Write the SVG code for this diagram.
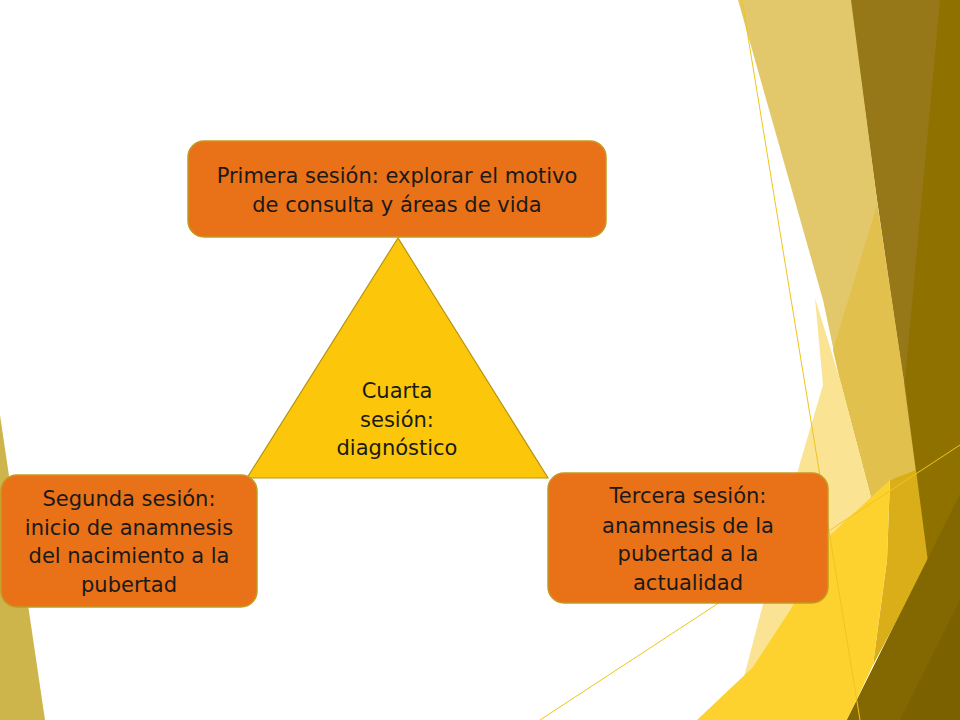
<svg xmlns="http://www.w3.org/2000/svg" width="960" height="720" viewBox="0 0 960 720">
  <style>
    .box { fill: #E97117; stroke: #C49B22; stroke-width: 1.5; }
    .tri { fill: #FCC70B; stroke: #B7950F; stroke-width: 1.2; }
    .lbl { font-family: "DejaVu Sans", "Noto Sans", sans-serif; font-size: 21px; fill: #1A1A1A; text-anchor: middle; }
    .thin { stroke: #F0C41A; stroke-width: 1; fill: none; }
  </style>
  <rect x="0" y="0" width="960" height="720" fill="#FFFFFF"/>
  <g id="background">
    <polygon points="0,415 45,720 0,720" fill="#CDB44B"/>
    <polygon points="850,0 960,0 960,720 847,720 927,560 903,380 877,200" fill="#967818"/>
    <polygon points="940,0 960,0 960,720 847,720 927,560 905,380" fill="#8F7100"/>
    <polygon points="738,0 851,0 877,200 904,382 840,380 823,300" fill="#E2C86B"/>
    <polygon points="877,205 904,382 916,472 890,480 877,520 840,380 833,350" fill="#E2C04E"/>
    <polygon points="815,298 840,380 877,520 830,535 790,610 752,668 740,692 800,463 823,385" fill="#FBE394"/>
    <polygon points="890,480 916,470 928,562 873,665 887,560" fill="#D9AE19"/>
    <polygon points="697,720 752,668 790,610 830,535 890,480 887,560 873,665 847,720" fill="#FDD22F"/>
    <polygon points="847,720 960,494 960,720" fill="#836700"/>
    <polygon points="900,720 960,600 960,720" fill="#7C6100"/>
    <line class="thin" x1="742" y1="0" x2="860" y2="720"/>
    <line class="thin" x1="540" y1="720" x2="960" y2="445"/>
  </g>
  <g id="connectors"/>
  <g id="node-cuarta">
    <polygon class="tri" points="398,238 247,478 548,478"/>
    <text class="lbl"><tspan x="397" y="398">Cuarta</tspan><tspan x="397" y="427">sesión:</tspan><tspan x="397" y="455">diagnóstico</tspan></text>
  </g>
  <g id="node-primera">
    <rect class="box" x="188" y="141" width="418" height="96" rx="16"/>
    <text class="lbl"><tspan x="397" y="183">Primera sesión: explorar el motivo</tspan><tspan x="397" y="212">de consulta y áreas de vida</tspan></text>
  </g>
  <g id="node-segunda">
    <rect class="box" x="1" y="475" width="256" height="132" rx="16"/>
    <text class="lbl"><tspan x="129" y="506">Segunda sesión:</tspan><tspan x="129" y="535">inicio de anamnesis</tspan><tspan x="129" y="563">del nacimiento a la</tspan><tspan x="129" y="592">pubertad</tspan></text>
  </g>
  <g id="node-tercera">
    <rect class="box" x="548" y="473" width="280" height="130" rx="16"/>
    <text class="lbl"><tspan x="688" y="503">Tercera sesión:</tspan><tspan x="688" y="533">anamnesis de la</tspan><tspan x="688" y="561">pubertad a la</tspan><tspan x="688" y="590">actualidad</tspan></text>
  </g>
</svg>
